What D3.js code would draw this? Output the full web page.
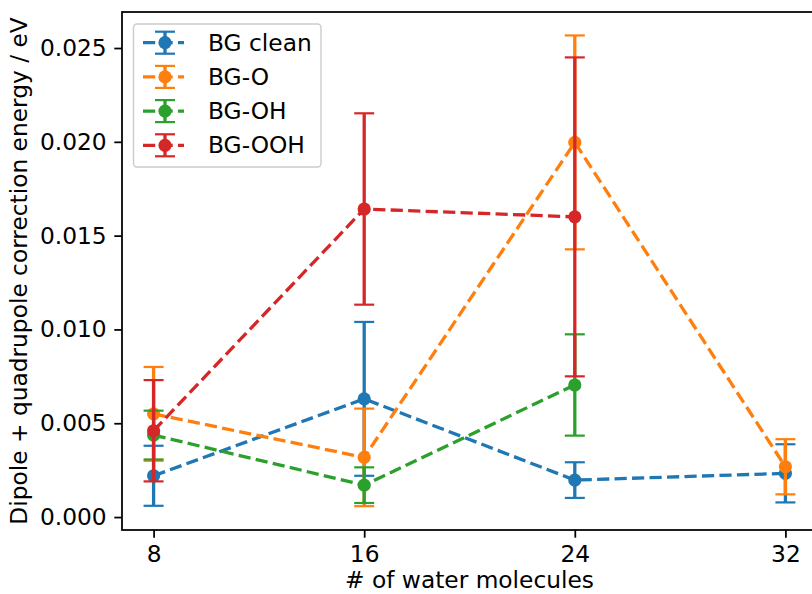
<!DOCTYPE html>
<html><head><meta charset="utf-8">
<script src="https://cdn.jsdelivr.net/npm/d3@7"></script>
<style>body{margin:0;background:#fff}svg{display:block}text{font-family:"DejaVu Sans",sans-serif;fill:#000}</style>
</head><body><div id="c"></div>
<script>
const xValues = [8, 16, 24, 32];
const seriesNames = ["BG clean", "BG-O", "BG-OH", "BG-OOH"];
const seriesColors = ["#1f77b4", "#ff7f0e", "#2ca02c", "#d62728"];
const bgClean = [0.0022, 0.0063, 0.00197, 0.00233];
const bgCleanErr = [0.0016, 0.0041, 0.00095, 0.00155];
const bgO = [0.0055, 0.00318, 0.01997, 0.00268];
const bgOErr = [0.0025, 0.0026, 0.0057, 0.00147];
const bgOH = [0.00437, 0.0017, 0.00704, null];
const bgOHErr = [0.0013, 0.00095, 0.0027, null];
const bgOOH = [0.0046, 0.01642, 0.0160, null];
const bgOOHErr = [0.0027, 0.0051, 0.0085, null];
const yTicks = [0, 0.005, 0.01, 0.015, 0.02, 0.025];

const values = [bgClean, bgO, bgOH, bgOOH];
const errs = [bgCleanErr, bgOErr, bgOHErr, bgOOHErr];

const W = 812, H = 594;
const m = {left: 122, right: 817, top: 12, bottom: 530};
const svg = d3.select("#c").append("svg").attr("width", W).attr("height", H);
const x = d3.scaleLinear().domain([6.8, 33.2]).range([m.left, m.right]);
const y = d3.scaleLinear().domain([-0.00069, 0.02692]).range([m.bottom, m.top]);

const pt = 2.2;
const fs = 23.3;
const lw = 1.5 * pt;
const cap = 10;
const mr = 3 * pt;

// series
values.forEach((vals, i) => {
  const col = seriesColors[i];
  const pts = xValues.map((xv, j) => ({x: xv, v: vals[j], e: errs[i][j]})).filter(d => d.v != null);
  const g = svg.append("g");
  g.append("path").datum(pts)
    .attr("d", d3.line().x(d => x(d.x)).y(d => y(d.v)))
    .attr("fill", "none").attr("stroke", col).attr("stroke-width", lw)
    .attr("stroke-dasharray", `${3.7*lw},${1.6*lw}`);
  pts.forEach(d => {
    const cx = x(d.x);
    g.append("line").attr("x1", cx).attr("x2", cx).attr("y1", y(d.v - d.e)).attr("y2", y(d.v + d.e))
      .attr("stroke", col).attr("stroke-width", lw);
    [d.v - d.e, d.v + d.e].forEach(yy => {
      g.append("line").attr("x1", cx - cap).attr("x2", cx + cap).attr("y1", y(yy)).attr("y2", y(yy))
        .attr("stroke", col).attr("stroke-width", 1.0 * pt);
    });
    g.append("circle").attr("cx", cx).attr("cy", y(d.v)).attr("r", mr).attr("fill", col);
  });
});

// axes
const xa = svg.append("g").attr("transform", `translate(0,${m.bottom})`)
  .call(d3.axisBottom(x).tickValues(xValues).tickFormat(d3.format("d")).tickSize(3.5*pt).tickPadding(3.5*pt));
const ya = svg.append("g").attr("transform", `translate(${m.left},0)`)
  .call(d3.axisLeft(y).tickValues(yTicks).tickFormat(d3.format(".3f")).tickSize(3.5*pt).tickPadding(3.5*pt));
[xa, ya].forEach(a => {
  a.select(".domain").remove();
  a.selectAll(".tick line").attr("stroke", "#000").attr("stroke-width", 0.8*pt);
  a.selectAll(".tick text").attr("font-size", fs).attr("font-family", "DejaVu Sans");
});
// frame
svg.append("rect").attr("x", m.left).attr("y", m.top).attr("width", m.right - m.left).attr("height", m.bottom - m.top)
  .attr("fill", "none").attr("stroke", "#000").attr("stroke-width", 0.8*pt);

svg.append("text").attr("x", (m.left + m.right) / 2).attr("y", 588).attr("text-anchor", "middle")
  .attr("font-size", fs).text("# of water molecules");
svg.append("text").attr("transform", `translate(27,${(m.top + m.bottom) / 2}) rotate(-90)`).attr("text-anchor", "middle")
  .attr("font-size", fs).text("Dipole + quadrupole correction energy / eV");

// legend
const lg = svg.append("g");
lg.append("rect").attr("x", 133.5).attr("y", 24).attr("width", 187.5).attr("height", 143).attr("rx", 3.5)
  .attr("fill", "#fff").attr("fill-opacity", 0.8).attr("stroke", "#cccccc").attr("stroke-width", 1.4);
seriesNames.forEach((name, i) => {
  const ly = 42.7 + i * 34.2;
  const col = seriesColors[i];
  lg.append("line").attr("x1", 143).attr("x2", 184).attr("y1", ly).attr("y2", ly)
    .attr("stroke", col).attr("stroke-width", lw).attr("stroke-dasharray", `${3.7*lw},${1.6*lw}`);
  lg.append("line").attr("x1", 165).attr("x2", 165).attr("y1", ly - 11).attr("y2", ly + 11)
    .attr("stroke", col).attr("stroke-width", lw);
  [ly - 11, ly + 11].forEach(yy => lg.append("line").attr("x1", 165 - cap).attr("x2", 165 + cap)
    .attr("y1", yy).attr("y2", yy).attr("stroke", col).attr("stroke-width", 1.0 * pt));
  lg.append("circle").attr("cx", 165).attr("cy", ly).attr("r", mr).attr("fill", col);
  lg.append("text").attr("x", 208).attr("y", ly).attr("dy", "0.35em").attr("font-size", fs).text(name);
});
</script></body></html>
